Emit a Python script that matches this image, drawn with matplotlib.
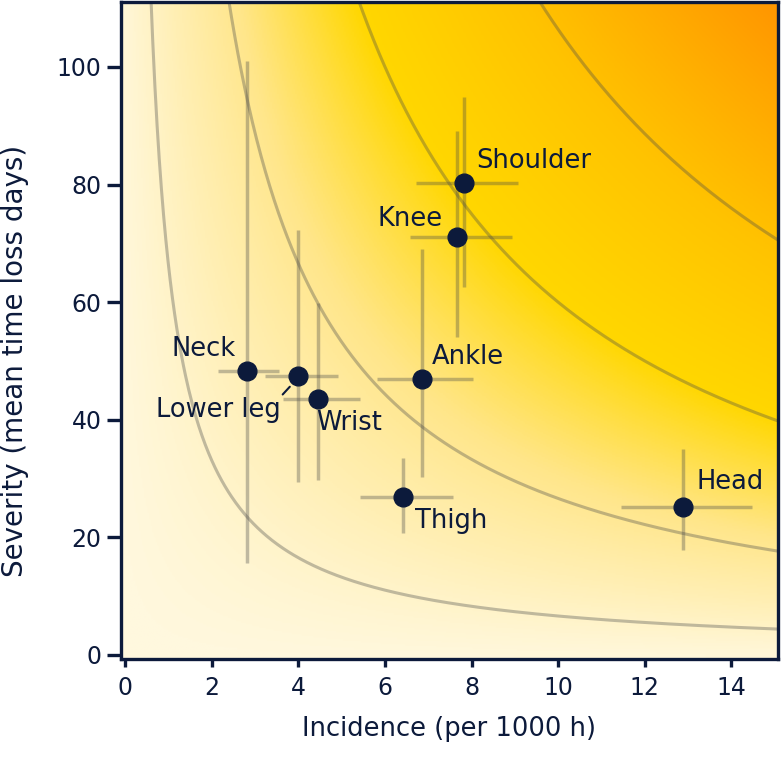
import numpy as np
import matplotlib.pyplot as plt
from matplotlib.colors import LinearSegmentedColormap

# injury data: incidence (per 1000 h) and severity (mean time loss days)
regions = ["Neck", "Lower leg", "Wrist", "Thigh", "Ankle", "Knee", "Shoulder", "Head"]
incidence = [2.80, 4.00, 4.45, 6.42, 6.86, 7.67, 7.83, 12.89]
inc_low = [2.15, 3.23, 3.65, 5.43, 5.82, 6.58, 6.72, 11.45]
inc_high = [3.56, 4.92, 5.43, 7.57, 8.04, 8.94, 9.08, 14.48]
severity = [48.2, 47.5, 43.5, 26.8, 47.0, 71.0, 80.3, 25.1]
sev_low = [15.6, 29.4, 29.7, 20.7, 30.2, 54.0, 62.5, 17.8]
sev_high = [101.0, 72.2, 59.8, 33.4, 69.1, 89.1, 94.9, 35.0]

# iso-burden curves (incidence x severity)
burden_levels = [66, 266, 600, 1064]

navy = "#0c1a3b"
plt.rc('font', family=['DejaVu Sans'])
plt.rc('font', size=18)

fig = plt.figure(figsize=(7.81, 7.6), dpi=100)
ax = fig.add_axes([0.155, 0.133, 0.841, 0.864])
xlim = (-0.1, 15.08)
ylim = (-0.7, 111)

# background gradient by burden
cmap = LinearSegmentedColormap.from_list("burden", [
    (0.0, "#fff8de"), (0.09, "#ffefb4"), (0.19, "#ffe68a"),
    (0.37, "#ffd700"), (0.62, "#ffc300"), (1.0, "#ff9600")])
gx = np.linspace(xlim[0], xlim[1], 400)
gy = np.linspace(ylim[0], ylim[1], 400)
GX, GY = np.meshgrid(gx, gy)
GX = np.clip(GX, 0, None)
GY = np.clip(GY, 0, None)
B = GX * GY + 0.3 * GY + 1.5 * GX
ax.imshow(B, extent=[xlim[0], xlim[1], ylim[0], ylim[1]], origin='lower',
          cmap=cmap, vmin=0, vmax=1720, aspect='auto', zorder=0)

xc = np.linspace(0.05, 15.2, 600)
for b in burden_levels:
    ax.plot(xc, b / xc, color="#4a4a4a", alpha=0.35, lw=2.2, zorder=1)

xerr = [np.array(incidence) - np.array(inc_low), np.array(inc_high) - np.array(incidence)]
yerr = [np.array(severity) - np.array(sev_low), np.array(sev_high) - np.array(severity)]
ax.errorbar(incidence, severity, xerr=xerr, yerr=yerr, fmt='none',
            ecolor="#4a4a4a", alpha=0.35, elinewidth=2.5, capsize=0, zorder=2)
ax.plot(incidence, severity, 'o', color=navy, markersize=13.5, zorder=3)

# labels
lbl = dict(color=navy, fontsize=18.5, va='center', zorder=4)
ax.text(8.10, 84.0, "Shoulder", ha='left', **lbl)
ax.text(7.34, 74.2, "Knee", ha='right', **lbl)
ax.text(7.09, 50.6, "Ankle", ha='left', **lbl)
ax.text(2.54, 52.1, "Neck", ha='right', **lbl)
ax.text(4.41, 39.4, "Wrist", ha='left', **lbl)
ax.text(6.70, 22.8, "Thigh", ha='left', **lbl)
ax.text(13.21, 29.4, "Head", ha='left', **lbl)
ax.annotate("Lower leg", xy=(3.80, 45.6), xytext=(3.58, 41.6), ha='right',
            color=navy, fontsize=18.5, va='center', zorder=4,
            arrowprops=dict(arrowstyle='-', color=navy, lw=1.5,
                            relpos=(0.97, 0.85), shrinkA=0, shrinkB=0))

ax.set_xlim(*xlim)
ax.set_ylim(*ylim)
ax.set_xticks(range(0, 15, 2))
ax.set_yticks(range(0, 101, 20))
ax.tick_params(axis='y', direction='out', length=10, width=2.4, colors=navy, labelsize=17, pad=4)
ax.tick_params(axis='x', direction='out', length=6, width=2.4, colors=navy, labelsize=17, pad=6)
for spine in ax.spines.values():
    spine.set_linewidth(2.4)
    spine.set_color(navy)
    spine.set_zorder(5)

ax.set_xlabel("Incidence (per 1000 h)", color=navy, fontsize=18.5, labelpad=12)
ax.set_ylabel("Severity (mean time loss days)", color=navy, fontsize=20)
ax.yaxis.set_label_coords(-0.14, 0.454)

fig.savefig("out.png", dpi=100)
